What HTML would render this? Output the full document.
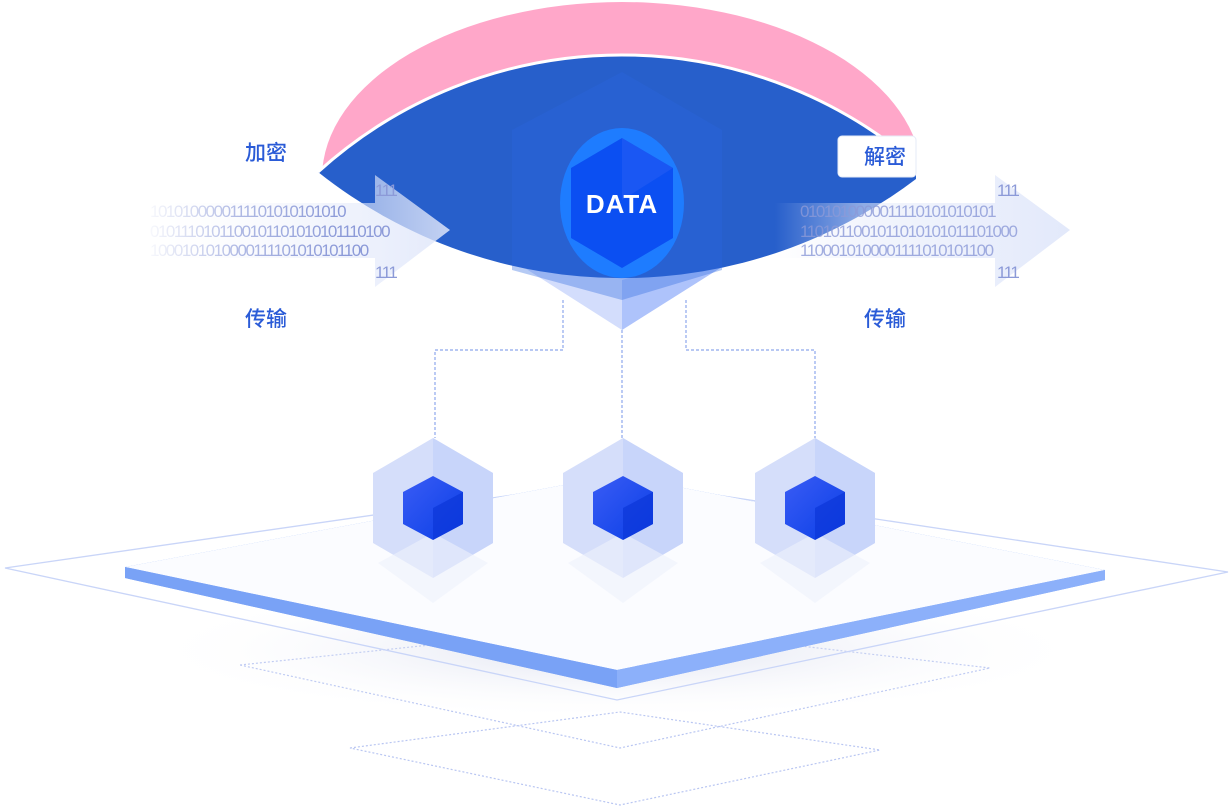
<!DOCTYPE html>
<html><head><meta charset="utf-8"><style>
html,body{margin:0;padding:0;background:#fff;width:1230px;height:808px;overflow:hidden}
svg{display:block}
.lbl{font-family:"Liberation Sans","Noto Sans CJK SC",sans-serif;font-size:21px;fill:#2a5bd7;font-weight:500}
.bin{font-family:"Liberation Sans",sans-serif;font-size:17px;fill:#8c9ad8;letter-spacing:-1.5px}
</style></head><body>
<svg width="1230" height="808" viewBox="0 0 1230 808" xmlns="http://www.w3.org/2000/svg">
<defs>
<linearGradient id="fadeL" x1="0" x2="1"><stop offset="0" stop-color="#fff" stop-opacity="1"/><stop offset="0.5" stop-color="#fff" stop-opacity="0.3"/><stop offset="1" stop-color="#fff" stop-opacity="0"/></linearGradient>
<linearGradient id="shaft" x1="0" x2="1"><stop offset="0" stop-color="#e8edfb" stop-opacity="0"/><stop offset="1" stop-color="#dfe6fa"/></linearGradient>
<linearGradient id="shaftR" x1="0" x2="1"><stop offset="0" stop-color="#e8edfb" stop-opacity="0"/><stop offset="0.3" stop-color="#e8edfb" stop-opacity="0.6"/><stop offset="1" stop-color="#dfe6fa"/></linearGradient>
<linearGradient id="cube" x1="0" x2="1" y1="0" y2="1"><stop offset="0" stop-color="#3a5cf5"/><stop offset="1" stop-color="#0a3fe6"/></linearGradient>
<radialGradient id="shadow" cx="0.5" cy="0.5" r="0.5"><stop offset="0" stop-color="#c7cde6" stop-opacity="0.6"/><stop offset="1" stop-color="#fff" stop-opacity="0"/></radialGradient>
<clipPath id="eyeclip"><rect x="0" y="0" width="916" height="808"/></clipPath>
<clipPath id="pinkclip"><path d="M318,172 A452,452 0 0 1 925,172 L925,0 L318,0 Z"/></clipPath>
</defs>

<g fill="none" stroke="#b9c6f2" stroke-width="1.2" stroke-dasharray="2 2">
<polygon points="240,665 620,625 990,668 620,748"/>
<polygon points="350,748 620,712 880,750 620,805"/>
</g>
<ellipse cx="617" cy="650" rx="480" ry="70" fill="url(#shadow)"/>
<polygon points="5,568 617,480 1228,572 617,700" fill="none" stroke="#c9d5f8" stroke-width="1.3"/>
<polygon points="125,567 617,475 1105,570 1105,580 617,688 125,578" fill="#7fa6f8"/>
<polygon points="125,567 617,475 1105,570 617,670" fill="#fbfcff"/>
<polygon points="125,567 617,670 617,688 125,578" fill="#79a2f6"/>
<polygon points="1105,570 617,670 617,688 1105,580" fill="#8cb0fa"/>

<g fill="none" stroke="#8ea8ec" stroke-width="1.2" stroke-dasharray="3 2">
<polyline points="563,300 563,350 435,350 435,438"/>
<line x1="622" y1="330" x2="622" y2="438"/>
<polyline points="686,300 686,350 815,350 815,438"/>
</g>

<g>
<g transform="translate(433,508)">
<polygon points="0,-70 60,-35 60,35 0,70 -60,35 -60,-35" fill="#d5defa"/>
<polygon points="0,-70 60,-35 60,35 0,70" fill="#c4d2fa" opacity="0.8"/>
<polygon points="-55,55 0,25 55,55 0,95" fill="#eef1fb" opacity="0.6"/>
<polygon points="0,-32 30,-16 30,16 0,32 -30,16 -30,-16" fill="url(#cube)"/>
<polygon points="0,0 30,-16 30,16 0,32" fill="#0b36d8" opacity="0.7"/>
</g>
<g transform="translate(623,508)">
<polygon points="0,-70 60,-35 60,35 0,70 -60,35 -60,-35" fill="#d5defa"/>
<polygon points="0,-70 60,-35 60,35 0,70" fill="#c4d2fa" opacity="0.8"/>
<polygon points="-55,55 0,25 55,55 0,95" fill="#eef1fb" opacity="0.6"/>
<polygon points="0,-32 30,-16 30,16 0,32 -30,16 -30,-16" fill="url(#cube)"/>
<polygon points="0,0 30,-16 30,16 0,32" fill="#0b36d8" opacity="0.7"/>
</g>
<g transform="translate(815,508)">
<polygon points="0,-70 60,-35 60,35 0,70 -60,35 -60,-35" fill="#d5defa"/>
<polygon points="0,-70 60,-35 60,35 0,70" fill="#c4d2fa" opacity="0.8"/>
<polygon points="-55,55 0,25 55,55 0,95" fill="#eef1fb" opacity="0.6"/>
<polygon points="0,-32 30,-16 30,16 0,32 -30,16 -30,-16" fill="url(#cube)"/>
<polygon points="0,0 30,-16 30,16 0,32" fill="#0b36d8" opacity="0.7"/>
</g>
</g>

<!-- central cube bottom -->
<polygon points="520,265 622,330 725,265 725,250 520,250" fill="#d3ddfc"/>
<polygon points="622,280 725,250 725,265 622,330" fill="#aec3fb"/>

<!-- eye -->
<g clip-path="url(#eyeclip)">
<g clip-path="url(#pinkclip)"><ellipse cx="622" cy="178" rx="300" ry="176" fill="#ffa7c9"/></g>
<path d="M318,172 A452,452 0 0 1 925,172 A487,487 0 0 1 318,172 Z" fill="#275fcb"/>
<path d="M318,172 A452,452 0 0 1 925,172" fill="none" stroke="#fff" stroke-width="3"/>
</g>
<polygon points="622,72 722,130 722,270 622,300 512,270 512,130" fill="#2a66e0" opacity="0.35"/>
<ellipse cx="622" cy="203" rx="62" ry="75" fill="#1e7cff"/>
<polygon points="622,138 673,168 673,238 622,268 571,238 571,168" fill="#0b4ff2"/>
<polygon points="622,138 673,168 622,200" fill="#2a60f4" opacity="0.5"/>
<text x="622" y="213" text-anchor="middle" font-family="Liberation Sans,sans-serif" font-weight="bold" font-size="26" fill="#fff" letter-spacing="1">DATA</text>

<!-- left arrow (over eye) -->
<g>
<polygon points="150,203 375,203 375,175 450,230 375,287 375,258 150,258" fill="url(#shaft)" opacity="0.85"/>
<text class="bin" x="150" y="217">1010100000111101010101010</text>
<text class="bin" x="150" y="237">0101110101100101101010101110100</text>
<text class="bin" x="150" y="256">1000101010000111101010101100</text>
<text class="bin" x="375" y="196">111</text>
<text class="bin" x="375" y="278">111</text>
<rect x="140" y="180" width="200" height="100" fill="url(#fadeL)"/>
</g>
<!-- right arrow -->
<g>
<polygon points="775,203 995,203 995,175 1070,230 995,287 995,258 775,258" fill="url(#shaftR)" opacity="0.9"/>
<text class="bin" x="800" y="217" opacity="0.8">0101010000011110101010101</text>
<text class="bin" x="800" y="237" opacity="0.8">1101011001011010101011101000</text>
<text class="bin" x="800" y="256" opacity="0.8">1100010100001111010101100</text>
<text class="bin" x="997" y="196">111</text>
<text class="bin" x="997" y="278">111</text>
</g>

<text class="lbl" x="245" y="160">加密</text>
<text class="lbl" x="245" y="326">传输</text>
<rect x="838" y="136" width="78" height="41" rx="4" fill="#fff"/>
<rect x="838" y="136" width="78" height="41" rx="4" fill="none" stroke="#e6ebf7"/>
<text class="lbl" x="864" y="164">解密</text>
<text class="lbl" x="864" y="326">传输</text>
</svg>
</body></html>
